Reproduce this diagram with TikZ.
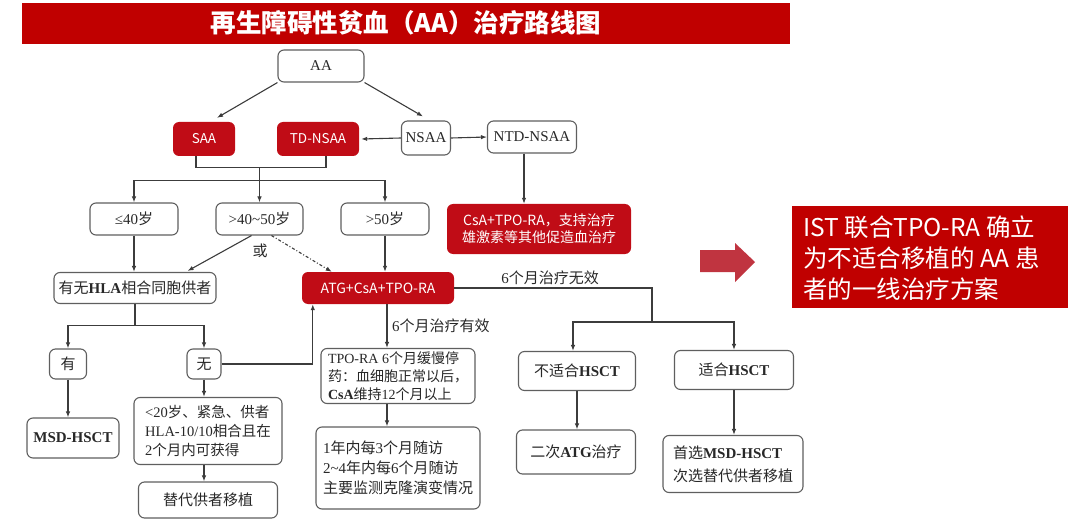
\documentclass[tikz,border=0pt]{standalone}
\usepackage{fontspec}
\setmainfont{Liberation Serif}
\newfontfamily\cjk{Noto Sans CJK SC}
\usetikzlibrary{arrows.meta,calc}
\definecolor{tred}{RGB}{192,0,0}
\definecolor{bred}{RGB}{192,12,22}
\definecolor{arred}{RGB}{192,52,64}
\definecolor{edgecol}{RGB}{95,95,95}
\definecolor{lncol}{RGB}{60,60,60}
\definecolor{txtcol}{RGB}{40,40,40}
\newcommand\zh[1]{{\cjk #1}}
\begin{document}
\begin{tikzpicture}[x=1pt,y=-1pt,
  wbox/.style={draw=edgecol, line width=1.1pt, rounded corners=6pt, fill=white, text=txtcol, inner sep=0pt, font=\fontsize{15}{20}\selectfont},
  rbox/.style={fill=bred, rounded corners=6pt, text=white, inner sep=0pt, font=\cjk\fontsize{14}{17}\selectfont},
  conn/.style={draw=lncol, line width=1.1pt},
  arr/.style={conn, -{Latex[length=6pt,width=4.5pt]}},
  lbl/.style={text=txtcol, inner sep=0pt, font=\fontsize{15}{20}\selectfont}]
\useasboundingbox (0,0) rectangle (1080,524);
% title
\fill[tred] (22,3) rectangle (790,44);
\node[text=white, font=\cjk\bfseries\fontsize{25.5}{30}\selectfont] (title) at (406,23) {再生障碍性贫血（AA）治疗路线图};
% nodes
\node[wbox, minimum width=86pt, minimum height=32pt] (AA) at (321,66) {AA};
\node[rbox, minimum width=62pt, minimum height=34pt, font=\cjk\fontsize{13.5}{17}\selectfont] (SAA) at (204,139) {SAA};
\node[rbox, minimum width=82pt, minimum height=34pt, font=\cjk\fontsize{13.5}{17}\selectfont] (TD) at (318,139) {TD-NSAA};
\node[wbox, minimum width=49pt, minimum height=34pt] (NSAA) at (426,138) {NSAA};
\node[wbox, minimum width=89pt, minimum height=32pt] (NTD) at (532,137) {NTD-NSAA};
\node[wbox, minimum width=88pt, minimum height=32pt] (age1) at (134,219) {≤40\zh{岁}};
\node[wbox, minimum width=87pt, minimum height=32pt] (age2) at (259.5,219) {>40\textasciitilde50\zh{岁}};
\node[wbox, minimum width=88pt, minimum height=32pt] (age3) at (385,219) {>50\zh{岁}};
\node[wbox, minimum width=162pt, minimum height=31pt] (HLA) at (135,288) {\zh{有无}\textbf{HLA}\zh{相合同胞供者}};
\node[rbox, minimum width=152pt, minimum height=32pt] (ATG) at (378,288) {ATG+CsA+TPO-RA};
\node[rbox, minimum width=184pt, minimum height=50pt, align=center] (NTDtx) at (539,229) {CsA+TPO-RA，支持治疗\\雄激素等其他促造血治疗};
\node[wbox, minimum width=37pt, minimum height=30pt] (you) at (68,364) {\zh{有}};
\node[wbox, minimum width=34pt, minimum height=30pt] (wu) at (204,364) {\zh{无}};
\node[wbox, minimum width=92pt, minimum height=40pt] (MSD) at (73,438) {\textbf{MSD-HSCT}};
\node[wbox, minimum width=148pt, minimum height=67pt, align=left, font=\fontsize{14.5}{19}\selectfont] (lt20) at (208,431) {<20\zh{岁、紧急、供者}\\HLA-10/10\zh{相合且在}\\2\zh{个月内可获得}};
\node[wbox, minimum width=139pt, minimum height=36pt] (alt) at (208,500) {\zh{替代供者移植}};
\node[wbox, minimum width=154pt, minimum height=55pt, align=left, font=\fontsize{14}{18}\selectfont] (tpo) at (398,376) {TPO-RA 6\zh{个月缓慢停}\\\zh{药：血细胞正常以后，}\\\textbf{CsA}\zh{维持}12\zh{个月以上}};
\node[wbox, minimum width=164pt, minimum height=82pt, align=left] (fu) at (398,468) {1\zh{年内每}3\zh{个月随访}\\2\textasciitilde4\zh{年内每}6\zh{个月随访}\\\zh{主要监测克隆演变情况}};
\node[wbox, minimum width=117pt, minimum height=39pt] (unfit) at (577,371) {\zh{不适合}\textbf{HSCT}};
\node[wbox, minimum width=119pt, minimum height=44pt] (atg2) at (576,452) {\zh{二次}\textbf{ATG}\zh{治疗}};
\node[wbox, minimum width=119pt, minimum height=39pt] (fit) at (734,370) {\zh{适合}\textbf{HSCT}};
\node[wbox, minimum width=140pt, minimum height=57pt, align=left, font=\fontsize{15}{23}\selectfont] (msd2) at (733,464) {\zh{首选}\textbf{MSD-HSCT}\\\zh{次选替代供者移植}};
% conclusion
\fill[tred] (792,206) rectangle (1068,308);
\node[anchor=west, align=left, text=white, inner sep=0pt, font=\cjk\fontsize{24.5}{31}\selectfont] (concl) at (803,258) {IST 联合TPO-RA 确立\\为不适合移植的 AA 患\\者的一线治疗方案};
\fill[arred] (700,250) -- (735,250) -- (735,243) -- (755,262) -- (735,282) -- (735,272) -- (700,272) -- cycle;
% connectors
\draw[arr] (AA.south west) -- ($(SAA.north)+(13,-4)$);
\draw[arr] (AA.south east) -- ($(NSAA.north)+(-3,-4)$);
\draw[arr] (NSAA.west) -- ($(TD.east)+(2,0)$);
\draw[arr] (NSAA.east) -- (NTD.west);
\coordinate (sb) at ($(SAA.south)+(-8,0)$);
\coordinate (tb) at ($(TD.south)+(8,0)$);
\coordinate (b1) at ($(age2.north |- SAA.south)+(0,11)$);
\coordinate (b2) at ($(age2.north |- SAA.south)+(0,24)$);
\draw[conn] (sb) -- ++(0,11) -| (tb);
\draw[arr] (b1) -- (age2.north);
\draw[arr] (b2) -| (age1.north);
\draw[arr] (b2) -| (age3.north);
\draw[arr] (age1.south) -- (age1.south |- HLA.north);
\draw[arr] ($(age2.south)+(-8,0)$) -- ($(HLA.north east)+(-29,-1)$);
\node[lbl] (or) at (260,251) {\zh{或}};
\draw[conn, dash pattern=on 3pt off 2pt on 1pt off 2pt, -{Latex[length=6pt,width=4.5pt]}] ($(age2.south)+(12,0)$) -- ($(ATG.north west)+(30,0)$);
\draw[arr] (age3.south) -- (age3.south |- ATG.north);
\coordinate (ntdb) at ($(NTD.south)+(-8,0)$);
\draw[arr] (ntdb) -- (ntdb |- NTDtx.north);
\draw[conn] (HLA.south) -- ++(0,21) coordinate (hb);
\draw[arr] (hb) -| (you.north);
\draw[arr] (hb) -| (wu.north);
\coordinate (atgsw) at ($(ATG.south west)+(11,0)$);
\draw[arr] (wu.east) -| (atgsw);
\draw[arr] (you.south) -- (you.south |- MSD.north);
\draw[arr] (wu.south) -- (wu.south |- lt20.north);
\draw[arr] (wu.south |- lt20.south) -- (wu.south |- alt.north);
\coordinate (atgb) at ($(ATG.south)+(9,0)$);
\draw[arr] (atgb) -- (atgb |- tpo.north);
\node[lbl, anchor=west] (eff) at (392,326) {6\zh{个月治疗有效}};
\draw[arr] (atgb |- tpo.south) -- (atgb |- fu.north);
\coordinate (rj) at (652,322);
\coordinate (ua) at ($(unfit.north)+(-4,0)$);
\draw[conn] (ATG.east) -| (rj);
\draw[arr] (rj) -| (ua);
\draw[arr] (rj) -| (fit.north);
\node[lbl] (ineff) at (550,278) {6\zh{个月治疗无效}};
\draw[arr] (unfit.south) -- (unfit.south |- atg2.north);
\draw[arr] (fit.south) -- (fit.south |- msd2.north);
\end{tikzpicture}
\end{document}
